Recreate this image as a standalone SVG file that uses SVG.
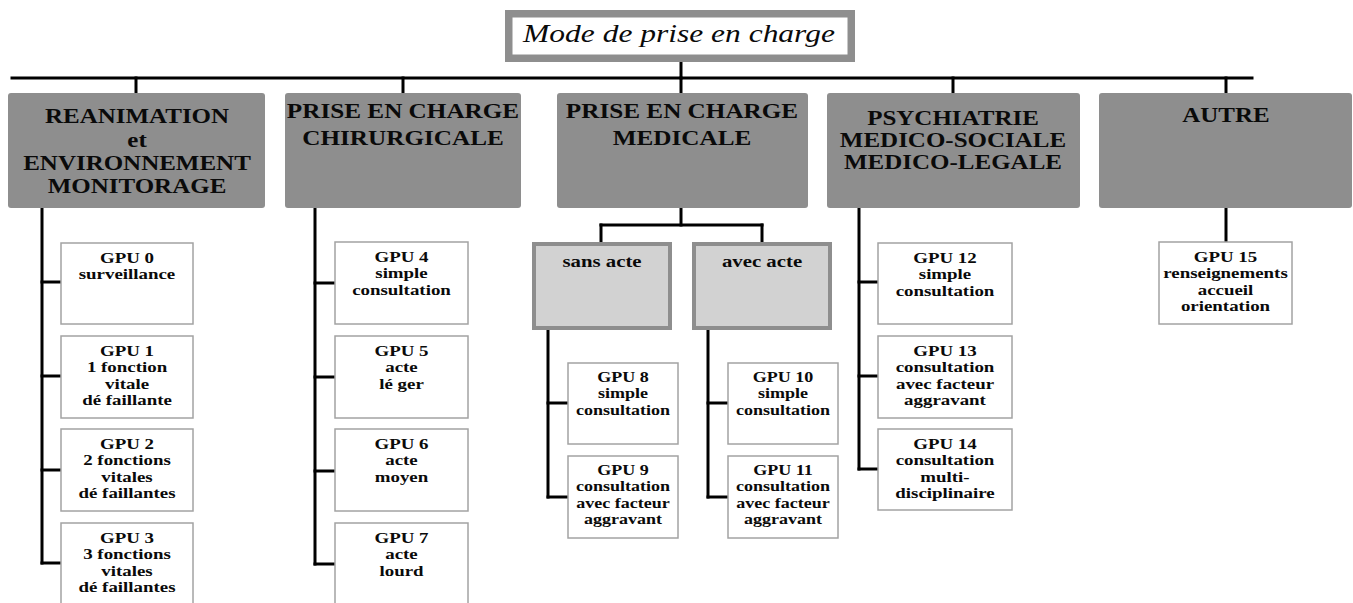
<svg xmlns="http://www.w3.org/2000/svg" width="1353" height="603" viewBox="0 0 1353 603">
<style>
.bg{fill:#ffffff}
.hdr{fill:#8e8e8e}
.sub{fill:#d2d2d2;stroke:#8e8e8e;stroke-width:4}
.gpu{fill:#ffffff;stroke:#a3a3a3;stroke-width:1.5}
.ttl{fill:#ffffff;stroke:#8e8e8e;stroke-width:7.5}
.conn line{stroke:#000000;stroke-width:3;stroke-linecap:square}
text{font-family:"Liberation Serif","Times New Roman",serif;fill:#0a0a0a;text-anchor:middle}
.t0{font-size:25px;font-style:italic}
.th{font-size:20px;font-weight:bold}
.ts{font-size:16px;font-weight:bold}
.tg{font-size:15px;font-weight:bold}
</style>
<rect class="bg" x="0" y="0" width="1353" height="603"/>

<g id="connectors" class="conn">
<line x1="681" y1="62" x2="681" y2="78"/>
<line x1="12" y1="78" x2="1252" y2="78"/>
<line x1="136" y1="78" x2="136" y2="93"/>
<line x1="403" y1="78" x2="403" y2="93"/>
<line x1="681" y1="78" x2="681" y2="93"/>
<line x1="953" y1="78" x2="953" y2="93"/>
<line x1="1226" y1="78" x2="1226" y2="93"/>
<line x1="42" y1="208" x2="42" y2="563"/>
<line x1="42" y1="282" x2="61" y2="282"/>
<line x1="42" y1="376" x2="61" y2="376"/>
<line x1="42" y1="470" x2="61" y2="470"/>
<line x1="42" y1="563" x2="61" y2="563"/>
<line x1="315" y1="208" x2="315" y2="564"/>
<line x1="315" y1="283" x2="335" y2="283"/>
<line x1="315" y1="377" x2="335" y2="377"/>
<line x1="315" y1="471" x2="335" y2="471"/>
<line x1="315" y1="564" x2="335" y2="564"/>
<line x1="681" y1="208" x2="681" y2="225"/>
<line x1="601" y1="225" x2="762" y2="225"/>
<line x1="601" y1="225" x2="601" y2="242"/>
<line x1="762" y1="225" x2="762" y2="242"/>
<line x1="548" y1="330" x2="548" y2="497"/>
<line x1="548" y1="403" x2="568" y2="403"/>
<line x1="548" y1="497" x2="568" y2="497"/>
<line x1="708" y1="330" x2="708" y2="497"/>
<line x1="708" y1="403" x2="728" y2="403"/>
<line x1="708" y1="497" x2="728" y2="497"/>
<line x1="859" y1="208" x2="859" y2="469"/>
<line x1="859" y1="282" x2="878" y2="282"/>
<line x1="859" y1="376" x2="878" y2="376"/>
<line x1="859" y1="469" x2="878" y2="469"/>
<line x1="1226" y1="208" x2="1226" y2="242"/>
</g>

<g id="title">
<rect class="ttl" x="508.75" y="13.75" width="342.5" height="44.5"/>
<text class="t0" transform="matrix(1.26 0 0 1 679 0)" x="0" y="42">Mode de prise en charge</text>
</g>

<g id="h1">
<rect class="hdr" x="8" y="93" width="257" height="115" rx="3"/>
<text class="th" transform="matrix(1.25 0 0 1 137 0)"><tspan x="0" y="123">REANIMATION</tspan><tspan x="0" y="147">et</tspan><tspan x="0" y="170">ENVIRONNEMENT</tspan><tspan x="0" y="193">MONITORAGE</tspan></text>
</g>
<g id="h2">
<rect class="hdr" x="285" y="93" width="236" height="115" rx="3"/>
<text class="th" transform="matrix(1.26 0 0 1 403 0)"><tspan x="0" y="118">PRISE EN CHARGE</tspan><tspan x="0" y="145">CHIRURGICALE</tspan></text>
</g>
<g id="h3">
<rect class="hdr" x="557" y="93" width="251" height="115" rx="3"/>
<text class="th" transform="matrix(1.26 0 0 1 682 0)"><tspan x="0" y="118">PRISE EN CHARGE</tspan><tspan x="0" y="145">MEDICALE</tspan></text>
</g>
<g id="h4">
<rect class="hdr" x="827" y="93" width="253" height="115" rx="3"/>
<text class="th" transform="matrix(1.25 0 0 1 953 0)"><tspan x="0" y="125">PSYCHIATRIE</tspan><tspan x="0" y="147">MEDICO-SOCIALE</tspan><tspan x="0" y="169">MEDICO-LEGALE</tspan></text>
</g>
<g id="h5">
<rect class="hdr" x="1099" y="93" width="253" height="115" rx="3"/>
<text class="th" transform="matrix(1.25 0 0 1 1226 0)"><tspan x="0" y="122">AUTRE</tspan></text>
</g>

<g id="sans-acte">
<rect class="sub" x="534" y="244" width="136" height="84"/>
<text class="ts" transform="matrix(1.3 0 0 1 602 0)" x="0" y="267">sans acte</text>
</g>
<g id="avec-acte">
<rect class="sub" x="694" y="244" width="136" height="84"/>
<text class="ts" transform="matrix(1.3 0 0 1 762 0)" x="0" y="267">avec acte</text>
</g>

<g id="gpu0">
<rect class="gpu" x="61" y="243" width="132" height="81"/>
<text class="tg" transform="matrix(1.26 0 0 1 127 0)"><tspan x="0" y="263">GPU 0</tspan><tspan x="0" y="279">surveillance</tspan></text>
</g>
<g id="gpu1">
<rect class="gpu" x="61" y="336" width="132" height="82"/>
<text class="tg" transform="matrix(1.26 0 0 1 127 0)"><tspan x="0" y="356">GPU 1</tspan><tspan x="0" y="372.5">1 fonction</tspan><tspan x="0" y="389">vitale</tspan><tspan x="0" y="405.5">dé faillante</tspan></text>
</g>
<g id="gpu2">
<rect class="gpu" x="61" y="429" width="132" height="82"/>
<text class="tg" transform="matrix(1.26 0 0 1 127 0)"><tspan x="0" y="449">GPU 2</tspan><tspan x="0" y="465.5">2 fonctions</tspan><tspan x="0" y="482">vitales</tspan><tspan x="0" y="498.5">dé faillantes</tspan></text>
</g>
<g id="gpu3">
<rect class="gpu" x="61" y="523" width="132" height="82"/>
<text class="tg" transform="matrix(1.26 0 0 1 127 0)"><tspan x="0" y="543">GPU 3</tspan><tspan x="0" y="559.5">3 fonctions</tspan><tspan x="0" y="576">vitales</tspan><tspan x="0" y="592.5">dé faillantes</tspan></text>
</g>

<g id="gpu4">
<rect class="gpu" x="335" y="242" width="133" height="82"/>
<text class="tg" transform="matrix(1.26 0 0 1 401.5 0)"><tspan x="0" y="262">GPU 4</tspan><tspan x="0" y="278.5">simple</tspan><tspan x="0" y="295">consultation</tspan></text>
</g>
<g id="gpu5">
<rect class="gpu" x="335" y="336" width="133" height="82"/>
<text class="tg" transform="matrix(1.26 0 0 1 401.5 0)"><tspan x="0" y="356">GPU 5</tspan><tspan x="0" y="372.5">acte</tspan><tspan x="0" y="389">lé ger</tspan></text>
</g>
<g id="gpu6">
<rect class="gpu" x="335" y="429" width="133" height="82"/>
<text class="tg" transform="matrix(1.26 0 0 1 401.5 0)"><tspan x="0" y="449">GPU 6</tspan><tspan x="0" y="465.5">acte</tspan><tspan x="0" y="482">moyen</tspan></text>
</g>
<g id="gpu7">
<rect class="gpu" x="335" y="523" width="133" height="82"/>
<text class="tg" transform="matrix(1.26 0 0 1 401.5 0)"><tspan x="0" y="543">GPU 7</tspan><tspan x="0" y="559.5">acte</tspan><tspan x="0" y="576">lourd</tspan></text>
</g>

<g id="gpu8">
<rect class="gpu" x="568" y="363" width="110" height="81"/>
<text class="tg" transform="matrix(1.2 0 0 1 623 0)"><tspan x="0" y="382">GPU 8</tspan><tspan x="0" y="398.5">simple</tspan><tspan x="0" y="415">consultation</tspan></text>
</g>
<g id="gpu9">
<rect class="gpu" x="568" y="456" width="110" height="82"/>
<text class="tg" transform="matrix(1.2 0 0 1 623 0)"><tspan x="0" y="475">GPU 9</tspan><tspan x="0" y="491.5">consultation</tspan><tspan x="0" y="508">avec facteur</tspan><tspan x="0" y="524.5">aggravant</tspan></text>
</g>
<g id="gpu10">
<rect class="gpu" x="728" y="363" width="110" height="81"/>
<text class="tg" transform="matrix(1.2 0 0 1 783 0)"><tspan x="0" y="382">GPU 10</tspan><tspan x="0" y="398.5">simple</tspan><tspan x="0" y="415">consultation</tspan></text>
</g>
<g id="gpu11">
<rect class="gpu" x="728" y="456" width="110" height="82"/>
<text class="tg" transform="matrix(1.2 0 0 1 783 0)"><tspan x="0" y="475">GPU 11</tspan><tspan x="0" y="491.5">consultation</tspan><tspan x="0" y="508">avec facteur</tspan><tspan x="0" y="524.5">aggravant</tspan></text>
</g>

<g id="gpu12">
<rect class="gpu" x="878" y="243" width="134" height="81"/>
<text class="tg" transform="matrix(1.26 0 0 1 945 0)"><tspan x="0" y="263">GPU 12</tspan><tspan x="0" y="279.5">simple</tspan><tspan x="0" y="296">consultation</tspan></text>
</g>
<g id="gpu13">
<rect class="gpu" x="878" y="336" width="134" height="82"/>
<text class="tg" transform="matrix(1.26 0 0 1 945 0)"><tspan x="0" y="356">GPU 13</tspan><tspan x="0" y="372.5">consultation</tspan><tspan x="0" y="389">avec facteur</tspan><tspan x="0" y="405.5">aggravant</tspan></text>
</g>
<g id="gpu14">
<rect class="gpu" x="878" y="429" width="134" height="81"/>
<text class="tg" transform="matrix(1.26 0 0 1 945 0)"><tspan x="0" y="449">GPU 14</tspan><tspan x="0" y="465.5">consultation</tspan><tspan x="0" y="482">multi-</tspan><tspan x="0" y="498.5">disciplinaire</tspan></text>
</g>

<g id="gpu15">
<rect class="gpu" x="1159" y="242" width="133" height="82"/>
<text class="tg" transform="matrix(1.26 0 0 1 1225.5 0)"><tspan x="0" y="262">GPU 15</tspan><tspan x="0" y="278.5">renseignements</tspan><tspan x="0" y="295">accueil</tspan><tspan x="0" y="311.5">orientation</tspan></text>
</g>
</svg>
